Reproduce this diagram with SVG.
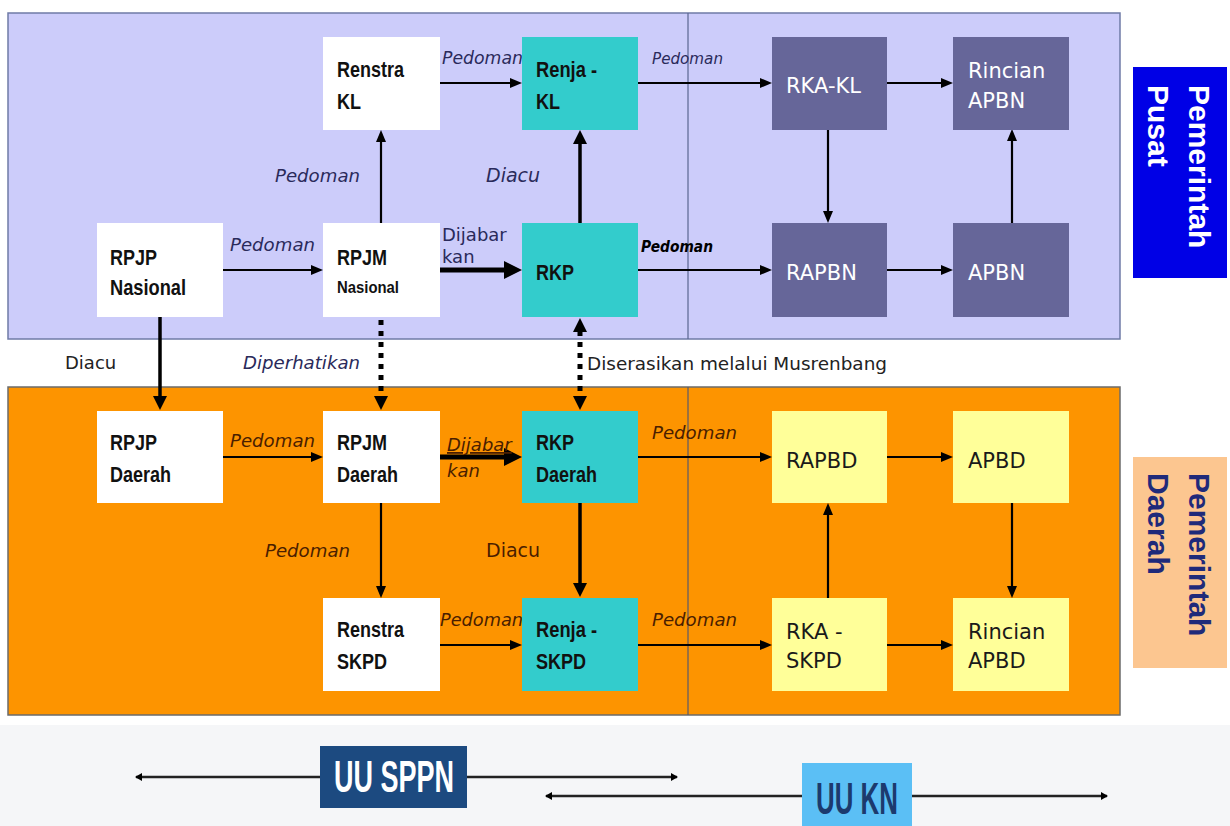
<svg xmlns="http://www.w3.org/2000/svg" width="1230" height="826" viewBox="0 0 1230 826">
<defs>
<style>
.nb{font-family:"Liberation Sans Narrow","Liberation Sans",Arial,sans-serif;font-weight:bold;font-size:22px;fill:#111;}
.nbs{font-size:17px;}
.nv{font-family:"DejaVu Sans",Verdana,sans-serif;font-size:21px;}
.w{fill:#fff;}
.dk{fill:#1a1a1a;}
.lab{font-family:"DejaVu Sans",Verdana,sans-serif;font-size:18px;fill:#2a2a5a;}
.it{font-style:italic;}
.br{fill:#4a1e00;}
.ln{stroke:#000;stroke-width:2.2;fill:none;}
.th{stroke:#000;stroke-width:5;fill:none;}
.md{stroke:#000;stroke-width:3.5;fill:none;}
.dot{stroke:#000;stroke-width:5;fill:none;stroke-dasharray:5 6;}
.side{font-family:"Liberation Sans",Arial,sans-serif;font-weight:bold;font-size:30px;}
.uu{font-family:"Liberation Sans Narrow","Liberation Sans",Arial,sans-serif;font-weight:bold;font-size:45px;}
</style>
<marker id="a" markerUnits="userSpaceOnUse" markerWidth="12" markerHeight="10" viewBox="0 0 12 10" refX="1" refY="5" orient="auto"><path d="M0,0 L12,5 L0,10 z" fill="#000"/></marker>
<marker id="m" markerUnits="userSpaceOnUse" markerWidth="14" markerHeight="14" viewBox="0 0 14 14" refX="1" refY="7" orient="auto"><path d="M0,0 L14,7 L0,14 z" fill="#000"/></marker>
<marker id="A" markerUnits="userSpaceOnUse" markerWidth="18" markerHeight="18" viewBox="0 0 18 18" refX="1" refY="9" orient="auto"><path d="M0,0 L18,9 L0,18 z" fill="#000"/></marker>
<marker id="mb" markerUnits="userSpaceOnUse" markerWidth="14" markerHeight="14" viewBox="0 0 14 14" refX="1" refY="7" orient="auto-start-reverse"><path d="M0,0 L14,7 L0,14 z" fill="#000"/></marker>
<marker id="s" markerUnits="userSpaceOnUse" markerWidth="7" markerHeight="8" viewBox="0 0 7 8" refX="6" refY="4" orient="auto-start-reverse"><path d="M0,0 L7,4 L0,8 z" fill="#000"/></marker>
</defs>
<rect width="1230" height="826" fill="#fff"/>
<rect x="0" y="725" width="1230" height="101" fill="#f5f6f8"/>

<g id="panel-pusat">
<rect x="8" y="13" width="1112" height="326" fill="#ccccfa" stroke="#6f7ba6" stroke-width="1.5"/>
<line x1="688" y1="13" x2="688" y2="339" stroke="#5a6690" stroke-width="1.2"/>
</g>
<g id="panel-daerah">
<rect x="8" y="387" width="1112" height="328" fill="#fd9400" stroke="#6b6b6b" stroke-width="1.5"/>
<line x1="688" y1="387" x2="688" y2="715" stroke="#5a5a6a" stroke-width="1.2"/>
</g>

<g id="connectors">
<line class="ln" x1="440" y1="83" x2="511" y2="83" marker-end="url(#a)"/>
<line class="ln" x1="638" y1="83" x2="761" y2="83" marker-end="url(#a)"/>
<line class="ln" x1="887" y1="83" x2="942" y2="83" marker-end="url(#a)"/>
<line class="ln" x1="828" y1="129" x2="828" y2="212" marker-end="url(#a)"/>
<line class="ln" x1="1012" y1="223" x2="1012" y2="140" marker-end="url(#a)"/>
<line class="ln" x1="887" y1="270" x2="942" y2="270" marker-end="url(#a)"/>
<line class="ln" x1="638" y1="270" x2="761" y2="270" marker-end="url(#a)"/>
<line class="ln" x1="223" y1="270" x2="312" y2="270" marker-end="url(#a)"/>
<line class="th" x1="440" y1="270" x2="505" y2="270" marker-end="url(#A)"/>
<line class="ln" x1="381" y1="223" x2="381" y2="141" marker-end="url(#a)"/>
<line class="md" x1="580" y1="223" x2="580" y2="143" marker-end="url(#m)"/>
<line class="md" x1="160" y1="317" x2="160" y2="397" marker-end="url(#m)"/>
<line class="dot" x1="381" y1="320" x2="381" y2="397" marker-end="url(#m)"/>
<line class="dot" x1="580" y1="331" x2="580" y2="397" marker-start="url(#mb)" marker-end="url(#mb)"/>
<line class="ln" x1="223" y1="457" x2="312" y2="457" marker-end="url(#a)"/>
<line class="th" x1="440" y1="457" x2="505" y2="457" marker-end="url(#A)"/>
<line class="ln" x1="638" y1="457" x2="761" y2="457" marker-end="url(#a)"/>
<line class="ln" x1="887" y1="457" x2="942" y2="457" marker-end="url(#a)"/>
<line class="ln" x1="1012" y1="503" x2="1012" y2="587" marker-end="url(#a)"/>
<line class="ln" x1="828" y1="598" x2="828" y2="514" marker-end="url(#a)"/>
<line class="ln" x1="381" y1="503" x2="381" y2="587" marker-end="url(#a)"/>
<line class="md" x1="580" y1="503" x2="580" y2="584" marker-end="url(#m)"/>
<line class="ln" x1="440" y1="645" x2="511" y2="645" marker-end="url(#a)"/>
<line class="ln" x1="638" y1="645" x2="761" y2="645" marker-end="url(#a)"/>
<line class="ln" x1="887" y1="645" x2="942" y2="645" marker-end="url(#a)"/>
<line x1="136" y1="777" x2="677" y2="777" stroke="#222" stroke-width="2.5" marker-start="url(#s)" marker-end="url(#s)"/>
<line x1="546" y1="796" x2="1107" y2="796" stroke="#222" stroke-width="2.5" marker-start="url(#s)" marker-end="url(#s)"/>
</g>

<g id="labels">
<text class="lab it" x="442" y="64" textLength="81" lengthAdjust="spacingAndGlyphs">Pedoman</text>
<text class="lab it" x="652" y="64" style="font-size:15px" textLength="71" lengthAdjust="spacingAndGlyphs">Pedoman</text>
<text class="lab it" x="641" y="252" style="font-size:16px;font-weight:bold;fill:#000" textLength="72" lengthAdjust="spacingAndGlyphs">Pedoman</text>
<text class="lab it" x="230" y="251" textLength="85" lengthAdjust="spacingAndGlyphs">Pedoman</text>
<text class="lab it" x="275" y="182" textLength="85" lengthAdjust="spacingAndGlyphs">Pedoman</text>
<text class="lab" x="442" y="241">Dijabar</text>
<text class="lab" x="442" y="263">kan</text>
<text class="lab it" x="486" y="182" style="font-size:19px">Diacu</text>
<text class="lab" x="65" y="369" style="fill:#222">Diacu</text>
<text class="lab it" x="243" y="369" textLength="117" lengthAdjust="spacingAndGlyphs">Diperhatikan</text>
<text class="lab" x="587" y="370" style="fill:#222" textLength="300" lengthAdjust="spacingAndGlyphs">Diserasikan melalui Musrenbang</text>
<text class="lab it br" x="230" y="447" textLength="85" lengthAdjust="spacingAndGlyphs">Pedoman</text>
<text class="lab it br" x="447" y="451" text-decoration="underline">Dijabar</text>
<text class="lab it br" x="447" y="477">kan</text>
<text class="lab it br" x="652" y="439" textLength="85" lengthAdjust="spacingAndGlyphs">Pedoman</text>
<text class="lab it br" x="265" y="557" textLength="85" lengthAdjust="spacingAndGlyphs">Pedoman</text>
<text class="lab br" x="486" y="557" style="font-size:19px">Diacu</text>
<text class="lab it br" x="440" y="626" textLength="83" lengthAdjust="spacingAndGlyphs">Pedoman</text>
<text class="lab it br" x="652" y="626" textLength="85" lengthAdjust="spacingAndGlyphs">Pedoman</text>
</g>

<g id="renstra-kl"><rect x="323" y="37" width="117" height="93" fill="#fff"/><text class="nb" x="337" y="77" textLength="67" lengthAdjust="spacingAndGlyphs">Renstra</text><text class="nb" x="337" y="109" textLength="24" lengthAdjust="spacingAndGlyphs">KL</text></g>
<g id="renja-kl"><rect x="522" y="37" width="116" height="93" fill="#33cccc"/><text class="nb" x="536" y="77" textLength="61" lengthAdjust="spacingAndGlyphs">Renja -</text><text class="nb" x="536" y="109" textLength="24" lengthAdjust="spacingAndGlyphs">KL</text></g>
<g id="rka-kl"><rect x="772" y="37" width="115" height="93" fill="#666699"/><text class="nv w" x="786" y="93">RKA-KL</text></g>
<g id="rincian-apbn"><rect x="953" y="37" width="116" height="93" fill="#666699"/><text class="nv w" x="968" y="78">Rincian</text><text class="nv w" x="968" y="108">APBN</text></g>
<g id="rpjp-nasional"><rect x="97" y="223" width="126" height="94" fill="#fff"/><text class="nb" x="110" y="265" textLength="47" lengthAdjust="spacingAndGlyphs">RPJP</text><text class="nb" x="110" y="295" textLength="76" lengthAdjust="spacingAndGlyphs">Nasional</text></g>
<g id="rpjm-nasional"><rect x="323" y="223" width="117" height="94" fill="#fff"/><text class="nb" x="337" y="265" textLength="50" lengthAdjust="spacingAndGlyphs">RPJM</text><text class="nb nbs" x="337" y="293" textLength="62" lengthAdjust="spacingAndGlyphs">Nasional</text></g>
<g id="rkp"><rect x="522" y="223" width="116" height="94" fill="#33cccc"/><text class="nb" x="536" y="280" textLength="38" lengthAdjust="spacingAndGlyphs">RKP</text></g>
<g id="rapbn"><rect x="772" y="223" width="115" height="94" fill="#666699"/><text class="nv w" x="786" y="280">RAPBN</text></g>
<g id="apbn"><rect x="953" y="223" width="116" height="94" fill="#666699"/><text class="nv w" x="968" y="280">APBN</text></g>

<g id="rpjp-daerah"><rect x="97" y="411" width="126" height="92" fill="#fff"/><text class="nb" x="110" y="450" textLength="47" lengthAdjust="spacingAndGlyphs">RPJP</text><text class="nb" x="110" y="482" textLength="61" lengthAdjust="spacingAndGlyphs">Daerah</text></g>
<g id="rpjm-daerah"><rect x="323" y="411" width="117" height="92" fill="#fff"/><text class="nb" x="337" y="450" textLength="50" lengthAdjust="spacingAndGlyphs">RPJM</text><text class="nb" x="337" y="482" textLength="61" lengthAdjust="spacingAndGlyphs">Daerah</text></g>
<g id="rkp-daerah"><rect x="522" y="411" width="116" height="92" fill="#33cccc"/><text class="nb" x="536" y="450" textLength="38" lengthAdjust="spacingAndGlyphs">RKP</text><text class="nb" x="536" y="482" textLength="61" lengthAdjust="spacingAndGlyphs">Daerah</text></g>
<g id="rapbd"><rect x="772" y="411" width="115" height="92" fill="#ffff99"/><text class="nv dk" x="786" y="468">RAPBD</text></g>
<g id="apbd"><rect x="953" y="411" width="116" height="92" fill="#ffff99"/><text class="nv dk" x="968" y="468">APBD</text></g>
<g id="renstra-skpd"><rect x="323" y="598" width="117" height="93" fill="#fff"/><text class="nb" x="337" y="637" textLength="67" lengthAdjust="spacingAndGlyphs">Renstra</text><text class="nb" x="337" y="669" textLength="50" lengthAdjust="spacingAndGlyphs">SKPD</text></g>
<g id="renja-skpd"><rect x="522" y="598" width="116" height="93" fill="#33cccc"/><text class="nb" x="536" y="637" textLength="61" lengthAdjust="spacingAndGlyphs">Renja -</text><text class="nb" x="536" y="669" textLength="50" lengthAdjust="spacingAndGlyphs">SKPD</text></g>
<g id="rka-skpd"><rect x="772" y="598" width="115" height="93" fill="#ffff99"/><text class="nv dk" x="786" y="639">RKA -</text><text class="nv dk" x="786" y="668">SKPD</text></g>
<g id="rincian-apbd"><rect x="953" y="598" width="116" height="93" fill="#ffff99"/><text class="nv dk" x="968" y="639">Rincian</text><text class="nv dk" x="968" y="668">APBD</text></g>

<g id="pemerintah-pusat"><rect x="1133" y="67" width="94" height="211" fill="#0000e6"/><text class="side" fill="#fff" transform="translate(1189,85) rotate(90)">Pemerintah</text><text class="side" fill="#fff" transform="translate(1148,85) rotate(90)">Pusat</text></g>
<g id="pemerintah-daerah"><rect x="1133" y="457" width="94" height="211" fill="#fcc690"/><text class="side" fill="#1f2a7a" transform="translate(1189,473) rotate(90)">Pemerintah</text><text class="side" fill="#1f2a7a" transform="translate(1148,473) rotate(90)">Daerah</text></g>

<g id="uu-sppn"><rect x="320" y="746" width="147" height="62" fill="#1c4a80"/><text class="uu" x="334" y="792" fill="#fff" textLength="120" lengthAdjust="spacingAndGlyphs">UU SPPN</text></g>
<g id="uu-kn"><rect x="802" y="763" width="110" height="63" fill="#5bbff5"/><text class="uu" x="816" y="814" fill="#1c3a6e" textLength="82" lengthAdjust="spacingAndGlyphs">UU KN</text></g>
</svg>
